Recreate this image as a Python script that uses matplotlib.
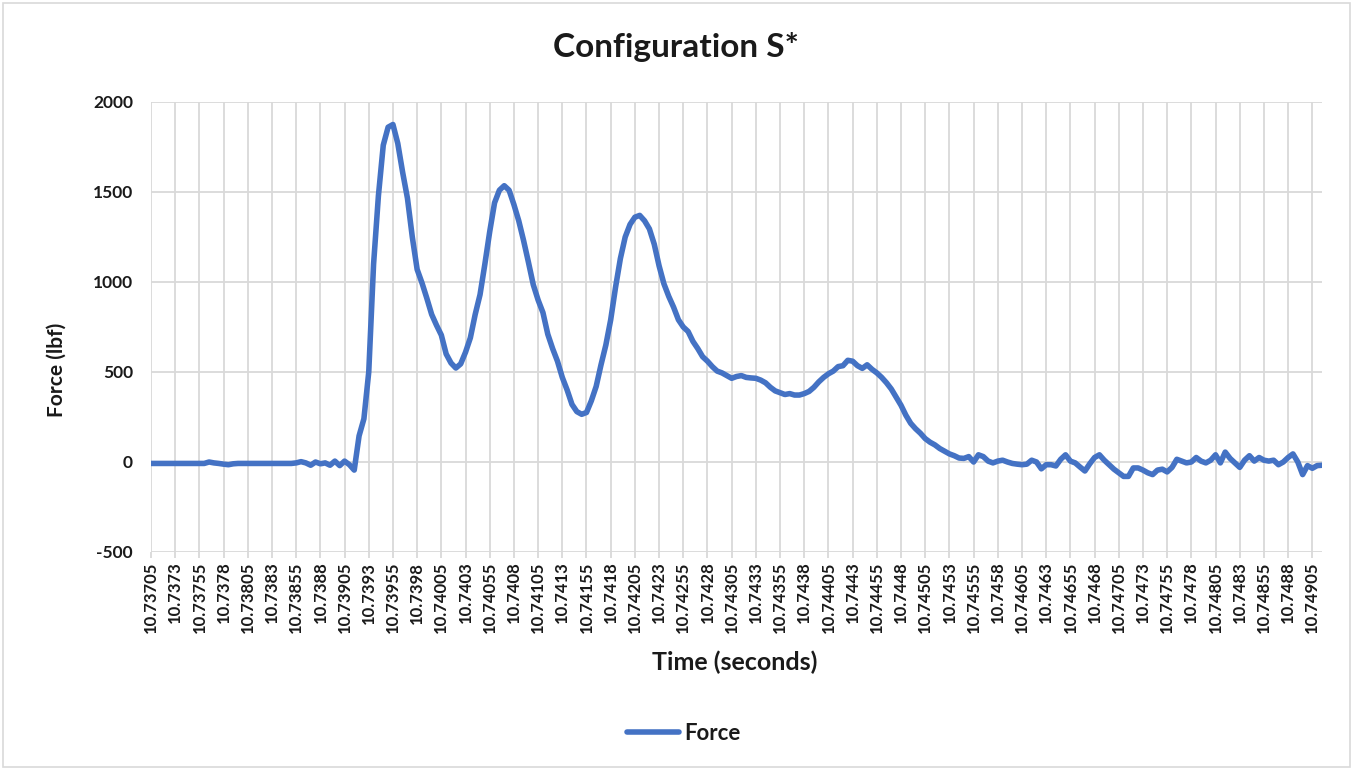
import matplotlib
matplotlib.use("Agg")
import matplotlib.pyplot as plt
from matplotlib.patches import Rectangle

plt.rcParams['font.family'] = ['Lato', 'DejaVu Sans']

title = "Configuration S*"
x_label = "Time (seconds)"
y_label = "Force (lbf)"
series_name = "Force"

tick_labels = [
    "10.73705", "10.7373", "10.73755", "10.7378", "10.73805", "10.7383", "10.73855",
    "10.7388", "10.73905", "10.7393", "10.73955", "10.7398", "10.74005", "10.7403",
    "10.74055", "10.7408", "10.74105", "10.7413", "10.74155", "10.7418", "10.74205",
    "10.7423", "10.74255", "10.7428", "10.74305", "10.7433", "10.74355", "10.7438",
    "10.74405", "10.7443", "10.74455", "10.7448", "10.74505", "10.7453", "10.74555",
    "10.7458", "10.74605", "10.7463", "10.74655", "10.7468", "10.74705", "10.7473",
    "10.74755", "10.7478", "10.74805", "10.7483", "10.74855", "10.7488", "10.74905",
]

force = [
    -8, -8, -8, -8, -8, -8, -8, -8, -8, -8, -8, -8,
    0, -5, -8, -12, -15, -10,
    -8, -8, -8, -8, -8, -8, -8, -8, -8, -8, -8, -8,
    -5, 2, -5, -18, 0, -10, -5, -18, 5, -20, 5, -15, -45,
    145, 240, 500, 1100, 1480, 1760, 1860, 1875, 1770, 1610, 1465, 1250, 1070, 995, 910, 820,
    760,
    705, 600, 550, 522, 545, 610, 690, 820, 930, 1100,
    1280, 1440, 1510, 1535, 1510, 1430, 1340, 1230, 1110, 985,
    900, 830, 710, 630, 560, 470, 400, 320, 280, 265,
    275, 340, 420, 540, 650, 790, 970, 1130, 1250, 1320,
    1360, 1370, 1340, 1295, 1210, 1090, 990, 920, 860, 790,
    750, 725, 670, 630, 585, 560, 530, 505, 495, 480,
    465, 475, 480, 470, 467, 465, 455, 440, 415, 395,
    385, 375, 380, 372, 372, 380, 392, 415, 445, 470,
    490, 505, 530, 535, 565, 560, 535, 520, 540, 515,
    495, 470, 440, 405, 360, 315, 260, 215, 185, 160,
    130, 110, 95, 75, 60, 45, 35, 22, 20, 30,
    0, 40, 30, 5, -5, 5, 10, 0, -8,
    -12,
    -15, -12, 10, 0, -38, -15, -15, -22, 15, 40,
    5, -5, -28, -50, -10, 25, 40, 10, -15, -40,
    -60, -80, -80, -33, -33, -45, -60, -70, -45, -40,
    -55, -30, 15, 5, -5, 0, 25, 5, -5, 10,
    40, -5, 55, 20, -5, -30, 10, 35, 5, 25,
    10, 5, 10, -15, 0, 25, 45, 0, -70, -20,
    -35, -20, -18,
]

y_ticks = [-500, 0, 500, 1000, 1500, 2000]
label_step = 5

W, H = 1353, 770
fig = plt.figure(figsize=(W / 100, H / 100), dpi=100)
left, right, top, bottom = 151, 1322, 102, 552
ax = fig.add_axes([left / W, 1 - bottom / H, (right - left) / W, (bottom - top) / H])

n = len(force)
xs = list(range(n))
line_color = "#4472C4"
grid_color = "#D9D9D9"
text_color = "#1a1a1a"

ax.plot(xs, force, color=line_color, lw=4.0, solid_joinstyle="round", solid_capstyle="round",
        zorder=3, label=series_name)

ax.set_xlim(0, n - 1)
ax.set_ylim(min(y_ticks), max(y_ticks))
ax.set_yticks(y_ticks)
ax.set_yticklabels([str(v) for v in y_ticks], fontsize=12.5, fontweight="bold", color=text_color)
tick_pos = list(range(0, len(tick_labels) * label_step, label_step))
ax.set_xticks(tick_pos)
ax.set_xticklabels(tick_labels, rotation=90, fontsize=12, fontweight="bold", color=text_color)

ax.grid(True, color=grid_color, lw=1.3, zorder=0)
for s in ax.spines.values():
    s.set_visible(False)
ax.tick_params(axis="y", length=0, pad=13)
ax.tick_params(axis="x", length=4, color=grid_color, width=1.3, pad=3)

fig.text(676 / W, 1 - 47 / H, title, ha="center", va="center", fontsize=24,
         fontweight="bold", color=text_color)
fig.text(735 / W, 1 - 662 / H, x_label, ha="center", va="center", fontsize=18,
         fontweight="bold", color=text_color)
fig.text(57 / W, 1 - 370 / H, y_label, ha="center", va="center", rotation=90, fontsize=15,
         fontweight="bold", color=text_color)

leg = fig.legend(loc="center", bbox_to_anchor=(684 / W, 1 - 733 / H), frameon=False,
                 handlelength=2.3, handletextpad=0.25,
                 prop={"size": 16, "weight": "bold"})
for t in leg.get_texts():
    t.set_color(text_color)

fig.patches.append(Rectangle((3 / W, 3 / H), 1 - 6 / W, 1 - 6 / H, transform=fig.transFigure,
                             fill=False, edgecolor="#D9D9D9", lw=1.2))

fig.savefig("out.png", dpi=100, facecolor="white")
